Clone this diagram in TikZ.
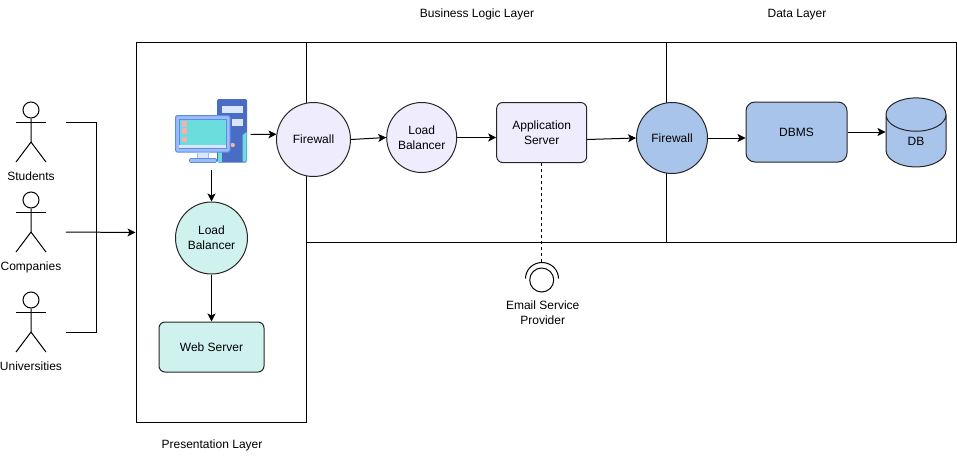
\documentclass[tikz,border=0pt]{standalone}
\usepackage{fontspec}
\setmainfont{Liberation Sans}
\usetikzlibrary{arrows.meta,positioning,shapes.geometric}
\definecolor{lilac}{HTML}{EFEDFD}
\definecolor{mint}{HTML}{CFF2EF}
\definecolor{skyblue}{HTML}{A9C4EB}
\definecolor{towerblue}{HTML}{4A6CC4}
\definecolor{frameblue}{HTML}{9DBDF9}
\definecolor{edgeblue}{HTML}{5E8AE8}
\definecolor{paleblue}{HTML}{DCE6FB}
\definecolor{screenteal}{HTML}{6BDDDD}
\definecolor{pinkled}{HTML}{F6AEB0}
\tikzset{
  arrowline/.style={-{Stealth[length=8pt, width=8pt, inset=2pt]}, line width=1pt},
  plainline/.style={line width=1pt},
  layerbox/.style={rectangle, draw, line width=1pt, inner sep=0pt},
  roundcircle/.style={circle, draw=black!85, line width=1pt, inner sep=0pt, align=center},
  serverbox/.style={rectangle, rounded corners=6pt, draw=black!85, line width=1pt, inner sep=0pt, align=center},
  caption/.style={inner sep=0pt, align=center}
}
\begin{document}
\begin{tikzpicture}[x=1pt, y=-1pt, font=\fontsize{12}{15}\selectfont]
  \useasboundingbox (0,0) rectangle (957,460);

  % Three layer boxes
  \node[layerbox, minimum width=170pt, minimum height=379pt] (presentation) at (221,232.5) {};
  \node[layerbox, minimum width=360pt, minimum height=199pt] (business) at (486,142.5) {};
  \node[layerbox, minimum width=290.5pt, minimum height=199pt] (datalayer) at (811.25,142.5) {};
  \node[caption] (presentationlabel) at (212,445) {Presentation Layer};
  \node[caption] (businesslabel) at (477,14.5) {Business Logic Layer};
  \node[caption] (datalabel) at (797,14.5) {Data Layer};

  % Actors
  \foreach \nm/\txt/\yy/\ly in {students/Students/110/176, companies/Companies/200/267, universities/Universities/300/366} {
    \node[circle, draw, line width=1pt, minimum size=16pt, inner sep=0pt] (\nm) at (31,\yy) {};
    \draw[plainline] (\nm.south) -- (31,\yy+32) -- (16,\yy+52);
    \draw[plainline] (31,\yy+32) -- (46,\yy+52);
    \draw[plainline] (16,\yy+12.5) -- (46,\yy+12.5);
    \node[caption] (\nm label) at (31,\ly) {\txt};
  }

  % Lines from the actors into the presentation layer
  \coordinate (studentsout) at (66,122.5);
  \coordinate (bustop) at (96,122.5);
  \coordinate (companiesout) at (66,232);
  \coordinate (busbottom) at (96,332);
  \coordinate (universitiesout) at (66,332);
  \draw[plainline] (studentsout) -- (bustop) -- (busbottom) -- (universitiesout);
  \draw[arrowline] (companiesout) -- (presentation.west);

  % Computer icon
  \node[minimum width=72pt, minimum height=63pt, inner sep=0pt] (computer) at (211,130.5) {};
  \fill[towerblue, rounded corners=1.5pt] (217,99) rectangle (247,162.5);
  \fill[paleblue] (222,106) rectangle (242.5,112.5);
  \fill[paleblue] (231.5,119) rectangle (242.5,125.5);
  \fill[screenteal] (242.7,135) -- (246.5,132) -- (246.5,161.5) -- (242.7,161.5) -- cycle;
  \fill[screenteal] (217.5,152) rectangle (221.5,161.5);
  \fill[pinkled] (232.7,145) circle (2.2pt);
  \fill[frameblue, draw=edgeblue, line width=1pt, rounded corners=1.5pt] (175.5,115.5) rectangle (230,152);
  \fill[screenteal, draw=edgeblue, line width=0.8pt] (179,119) rectangle (226.7,148.5);
  \fill[paleblue] (179.4,145) rectangle (226.3,148);
  \foreach \yy in {124,131,139.5} {
    \fill[pinkled] (181.7,\yy-2.8) rectangle (186.7,\yy+2.8);
  }
  \fill[paleblue, draw=frameblue, line width=0.8pt] (197.5,152.5) rectangle (208,158.5);
  \fill[frameblue, draw=edgeblue, line width=0.6pt, rounded corners=1pt] (189.5,158.5) rectangle (216.5,162.5);
  \coordinate (computerright) at (250.5,134.5);
  \coordinate (computerbottom) at (211.5,170);

  % Presentation layer
  \node[roundcircle, fill=mint, minimum size=72pt] (loadleft) at (211.5,238) {Load\\Balancer};
  \node[serverbox, fill=mint, minimum width=105pt, minimum height=50pt] (webserver) at (211.5,347) {Web Server};

  % Business logic layer
  \node[roundcircle, fill=lilac, minimum size=74pt] (firewallone) at (313.5,139.5) {Firewall};
  \node[roundcircle, fill=lilac, minimum size=70pt] (loadmid) at (421.7,137.5) {Load\\Balancer};
  \node[serverbox, fill=lilac, minimum width=90pt, minimum height=60pt] (appserver) at (541.7,132.5) {Application\\Server};

  % Data layer
  \node[roundcircle, fill=skyblue, minimum size=71pt] (firewalltwo) at (672,138) {Firewall};
  \node[serverbox, rounded corners=9pt, fill=skyblue, minimum width=101pt, minimum height=60pt] (dbms) at (796.5,132) {DBMS};
  \node[cylinder, shape border rotate=90, shape aspect=2, draw=black!85, line width=1pt, fill=skyblue, inner sep=0pt, minimum width=60pt, minimum height=69pt] (db) at (916,141) {\raisebox{-3pt}{DB}};

  % Email service symbol
  \node[circle, draw, line width=1pt, minimum size=24pt, inner sep=0pt] (email) at (541.7,280) {};
  \draw[plainline] (525.5,278.5) arc[start angle=180, end angle=360, x radius=16.5, y radius=16];
  \coordinate (emailtop) at (541.7,262.5);
  \node[caption, below=8pt of email, xshift=1pt] (emaillabel) {Email Service\\Provider};

  % Connectors
  \draw[arrowline] (computerright) -- (firewallone.172);
  \draw[arrowline] (computerbottom) -- (loadleft.north);
  \draw[arrowline] (loadleft.south) -- (webserver.north);
  \draw[arrowline] (firewallone.east) -- (loadmid.west);
  \draw[arrowline] (loadmid.east) -- (loadmid.east -| appserver.west);
  \draw[arrowline] ([yshift=-7pt]appserver.east) -- (firewalltwo.west);
  \draw[arrowline] (firewalltwo.east) -- (firewalltwo.east -| dbms.west);
  \draw[arrowline] (dbms.east) -- (dbms.east -| db.west);
  \draw[plainline, dash pattern=on 3pt off 3pt] (appserver.south) -- (emailtop);
\end{tikzpicture}
\end{document}
